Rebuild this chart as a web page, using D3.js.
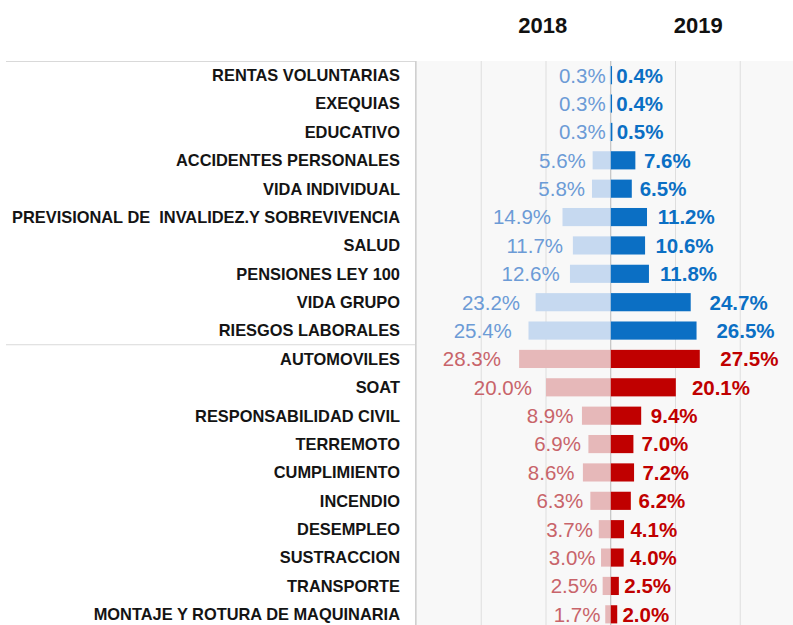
<!DOCTYPE html>
<html>
<head>
<meta charset="utf-8">
<script src="https://cdn.jsdelivr.net/npm/d3@7"></script>
<style>
  body { margin: 0; background: #fff; }
  svg { display: block; font-family: "Liberation Sans", Arial, sans-serif; }
</style>
</head>
<body>
<div id="chart"></div>
<script>
// Data
const categories = [
  "RENTAS VOLUNTARIAS", "EXEQUIAS", "EDUCATIVO", "ACCIDENTES PERSONALES",
  "VIDA INDIVIDUAL", "PREVISIONAL DE  INVALIDEZ.Y SOBREVIVENCIA", "SALUD",
  "PENSIONES LEY 100", "VIDA GRUPO", "RIESGOS LABORALES",
  "AUTOMOVILES", "SOAT", "RESPONSABILIDAD CIVIL", "TERREMOTO", "CUMPLIMIENTO",
  "INCENDIO", "DESEMPLEO", "SUSTRACCION", "TRANSPORTE", "MONTAJE Y ROTURA DE MAQUINARIA"
];
const groups = [
  "personas", "personas", "personas", "personas", "personas",
  "personas", "personas", "personas", "personas", "personas",
  "generales", "generales", "generales", "generales", "generales",
  "generales", "generales", "generales", "generales", "generales"
];
const values2018 = [0.3, 0.3, 0.3, 5.6, 5.8, 14.9, 11.7, 12.6, 23.2, 25.4,
                    28.3, 20.0, 8.9, 6.9, 8.6, 6.3, 3.7, 3.0, 2.5, 1.7];
const values2019 = [0.4, 0.4, 0.5, 7.6, 6.5, 11.2, 10.6, 11.8, 24.7, 26.5,
                    27.5, 20.1, 9.4, 7.0, 7.2, 6.2, 4.1, 4.0, 2.5, 2.0];
const years = ["2018", "2019"];
const gridTicks = [-60, -40, -20, 0, 20, 40, 60];

const rows = categories.map((c, i) => ({
  cat: c, group: groups[i], v18: values2018[i], v19: values2019[i]
}));

const colors = {
  personas:  {bar18: "#c6d9f0", txt18: "#6c9bd6", bar19: "#0b6fc4", txt19: "#0b6fc4"},
  generales: {bar18: "#e6b8b9", txt18: "#c8646a", bar19: "#c00000", txt19: "#c00000"}
};

const W = 793, H = 625;
const plotTop = 61, plotBottom = 628.5, labelRight = 415, boxLeft = 6;

const svg = d3.select("#chart").append("svg")
    .attr("width", W)
    .attr("height", H);

const x = d3.scaleLinear().domain([-60, 60]).range([416.5, 805]);
const y = d3.scaleBand().domain(categories).range([plotTop, plotBottom])
    .paddingInner(0.36).paddingOuter(0.18);

// plot background
svg.append("rect")
    .attr("x", labelRight).attr("y", plotTop)
    .attr("width", W - labelRight).attr("height", H - plotTop)
    .attr("fill", "#f8f8f8");

// gridlines
svg.append("g")
  .selectAll("line")
  .data(gridTicks)
  .join("line")
    .attr("x1", d => x(d)).attr("x2", d => x(d))
    .attr("y1", plotTop).attr("y2", H)
    .attr("stroke", d => d === 0 ? "#b8b8b8" : "#dedede")
    .attr("stroke-width", 1);

// label box lines
const sepY = y(categories[10]) - y.step() * y.paddingInner() / 2;
svg.append("line")
    .attr("x1", boxLeft).attr("x2", labelRight)
    .attr("y1", plotTop + 0.5).attr("y2", plotTop + 0.5)
    .attr("stroke", "#d9d9d9");
svg.append("line")
    .attr("x1", boxLeft).attr("x2", labelRight)
    .attr("y1", sepY).attr("y2", sepY)
    .attr("stroke", "#d9d9d9");
svg.append("line")
    .attr("x1", labelRight + 0.5).attr("x2", labelRight + 0.5)
    .attr("y1", plotTop).attr("y2", H)
    .attr("stroke", "#d0d0d0");

// year headers
svg.selectAll(".year")
  .data(years)
  .join("text")
    .attr("class", "year")
    .attr("x", (d, i) => i === 0 ? x(-21) : x(27))
    .attr("y", 33)
    .attr("text-anchor", "middle")
    .style("font-size", "22px")
    .style("font-weight", "bold")
    .attr("fill", "#111")
    .text(d => d);

// category labels
svg.append("g")
  .selectAll("text")
  .data(rows)
  .join("text")
    .attr("x", 400)
    .attr("y", d => y(d.cat) + y.bandwidth() / 2)
    .attr("dy", "0.36em")
    .attr("text-anchor", "end")
    .style("font-size", "16.4px")
    .style("font-weight", "bold")
    .style("white-space", "pre")
    .attr("fill", "#141414")
    .text(d => d.cat);

// bars 2018 (left)
svg.append("g")
  .selectAll("rect")
  .data(rows)
  .join("rect")
    .attr("x", d => x(-d.v18))
    .attr("y", d => y(d.cat))
    .attr("width", d => x(0) - x(-d.v18))
    .attr("height", y.bandwidth())
    .attr("fill", d => colors[d.group].bar18);

// bars 2019 (right)
svg.append("g")
  .selectAll("rect")
  .data(rows)
  .join("rect")
    .attr("x", x(0))
    .attr("y", d => y(d.cat))
    .attr("width", d => x(d.v19) - x(0))
    .attr("height", y.bandwidth())
    .attr("fill", d => colors[d.group].bar19);

const fmt = v => v.toFixed(1) + "%";

// labels 2018
svg.append("g")
  .selectAll("text")
  .data(rows)
  .join("text")
    .attr("x", d => x(-d.v18) - 4 - d.v18 * 0.5)
    .attr("y", d => y(d.cat) + y.bandwidth() / 2)
    .attr("dy", "0.36em")
    .attr("text-anchor", "end")
    .style("font-size", "20.5px")
    .attr("fill", d => colors[d.group].txt18)
    .text(d => fmt(d.v18));

// labels 2019
svg.append("g")
  .selectAll("text")
  .data(rows)
  .join("text")
    .attr("x", d => x(d.v19) + 4 + d.v19 * 0.6)
    .attr("y", d => y(d.cat) + y.bandwidth() / 2)
    .attr("dy", "0.36em")
    .style("font-size", "20.5px")
    .style("font-weight", "bold")
    .attr("fill", d => colors[d.group].txt19)
    .text(d => fmt(d.v19));
</script>
</body>
</html>
